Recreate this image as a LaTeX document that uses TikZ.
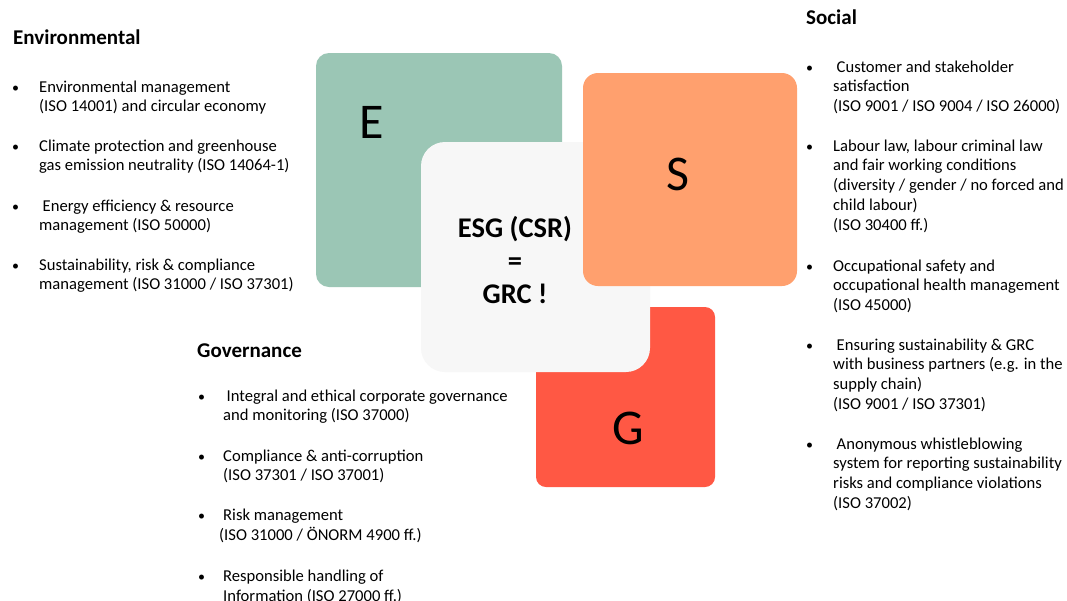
\documentclass[tikz,border=0pt]{standalone}
\usepackage{fontspec}
\setmainfont{Carlito}
\definecolor{egreen}{HTML}{9BC6B5}
\definecolor{sorange}{HTML}{FFA06E}
\definecolor{gred}{HTML}{FF5844}
\definecolor{cgray}{HTML}{F7F7F7}
\tikzset{
  itm/.style={anchor=north west, inner sep=0pt, align=left, font=\fontsize{16.6}{19.7}\selectfont},
  bul/.style={anchor=north west, inner sep=0pt, font=\fontsize{14}{19.7}\selectfont},
  head/.style={anchor=base west, inner sep=0pt, font=\fontsize{21}{24}\selectfont\bfseries},
  letter/.style={inner sep=0pt, font=\fontsize{50}{60}\selectfont},
  ctext/.style={inner sep=0pt, align=center, font=\fontsize{28.5}{33}\selectfont\bfseries},
}
\newcommand{\sline}{\strut}
\begin{document}
\begin{tikzpicture}[x=1pt,y=-1pt]
\useasboundingbox (0,0) rectangle (1067,600);
\fill[white] (0,0) rectangle (1067,600);
% boxes
\fill[egreen, rounded corners=13pt] (316,53) rectangle (562,287);
\fill[gred, rounded corners=10pt] (536,307) rectangle (715,487);
\fill[cgray, rounded corners=24pt] (421,142) rectangle (650,372);
\fill[sorange, rounded corners=15pt] (583,73) rectangle (797,286);
\node[letter] (E) at (372,122) {E};
\node[letter] (S) at (678,174) {S};
\node[letter] (G) at (628,428) {G};
\node[ctext] (c) at (515,260) {ESG (CSR)\\=\\GRC !};
% Environmental
\node[head] (eh) at (13,44) {Environmental};
\foreach \y/\n in {92/1,151/2,211/3,270/4}{\node[bul] (eb\n) at (12,\y-13.7) {\sline•};}
\node[itm] (e1) at (39,92-13.7) {\sline Environmental management\\(ISO 14001) and circular economy};
\node[itm] (e2) at (39,151-13.7) {\sline Climate protection and greenhouse\\gas emission neutrality (ISO 14064-1)};
\node[itm] (e3) at (39,211-13.7) {\sline\hspace{3.5pt}Energy efficiency \& resource\\management (ISO 50000)};
\node[itm] (e4) at (39,270-13.7) {\sline Sustainability, risk \& compliance\\management (ISO 31000 / ISO 37301)};
% Social
\node[head] (sh) at (806,24) {Social};
\foreach \y/\n in {72/1,151/2,271/3,350/4,449/5}{\node[bul] (sb\n) at (806,\y-13.7) {\sline•};}
\node[itm] (s1) at (833,72-13.7) {\sline\hspace{3.5pt}Customer and stakeholder\\satisfaction\\(ISO 9001 / ISO 9004 / ISO 26000)};
\node[itm] (s2) at (833,151-13.7) {\sline Labour law, labour criminal law\\and fair working conditions\\(diversity / gender / no forced and\\child labour)\\(ISO 30400 ff.)};
\node[itm] (s3) at (833,271-13.7) {\sline Occupational safety and\\occupational health management\\(ISO 45000)};
\node[itm] (s4) at (833,350-13.7) {\sline\hspace{3.5pt}Ensuring sustainability \& GRC\\with business partners (e.g. in the\\supply chain)\\(ISO 9001 / ISO 37301)};
\node[itm] (s5) at (833,449-13.7) {\sline\hspace{3.5pt}Anonymous whistleblowing\\system for reporting sustainability\\risks and compliance violations\\(ISO 37002)};
% Governance
\node[head] (gh) at (197,357) {Governance};
\foreach \y/\n in {401/1,461/2,520/3,581/4}{\node[bul] (gb\n) at (198,\y-13.7) {\sline•};}
\node[itm] (g1) at (223,401-13.7) {\sline\hspace{3.5pt}Integral and ethical corporate governance\\and monitoring (ISO 37000)};
\node[itm] (g2) at (223,461-13.7) {\sline Compliance \& anti-corruption\\(ISO 37301 / ISO 37001)};
\node[itm] (g3) at (223,520-13.7) {\sline Risk management\\\hspace{-4pt}(ISO 31000 / ÖNORM 4900 ff.)};
\node[itm] (g4) at (223,581-13.7) {\sline Responsible handling of\\Information (ISO 27000 ff.)};
\end{tikzpicture}
\end{document}
